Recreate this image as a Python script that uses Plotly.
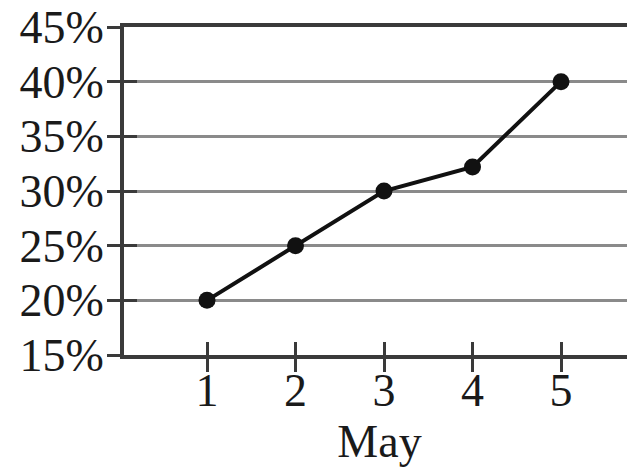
import plotly.graph_objects as go

days = [1, 2, 3, 4, 5]
percent = [20, 25, 30, 32.2, 40]
y_ticks = [15, 20, 25, 30, 35, 40, 45]
y_tick_labels = ["15%", "20%", "25%", "30%", "35%", "40%", "45%"]
x_ticks = [1, 2, 3, 4, 5]
x_tick_labels = ["1", "2", "3", "4", "5"]

FONT = dict(family="Liberation Serif, Times New Roman, serif", size=46, color="#1a1a1a")

fig = go.Figure()
fig.add_trace(go.Scatter(
    x=days, y=percent, mode="lines+markers",
    line=dict(color="#111", width=4),
    marker=dict(color="#111", size=17),
    showlegend=False, cliponaxis=False,
))
# helper trace to draw inner halves of tick marks
fig.add_trace(go.Scatter(
    x=days, y=percent, xaxis="x2", yaxis="y2", mode="lines",
    line=dict(width=0), opacity=0, showlegend=False, hoverinfo="skip",
))

axis_common = dict(showline=True, linecolor="#3a3a3a", linewidth=4,
                   tickcolor="#3a3a3a", tickwidth=3, zeroline=False, automargin=False)

fig.update_layout(
    width=627, height=460,
    margin=dict(l=116, r=0, t=19, b=113),
    paper_bgcolor="white", plot_bgcolor="white",
    font=FONT,
    xaxis=dict(range=[0.062, 5.836], tickvals=x_ticks, ticktext=x_tick_labels,
               ticks="outside", ticklen=13, ticklabelstandoff=-21, mirror=True,
               showgrid=False, title=dict(text="May", standoff=4, font=FONT),
               tickfont=FONT, ticklabeloverflow="allow", **axis_common),
    yaxis=dict(range=[15, 45], tickvals=y_ticks, ticktext=y_tick_labels,
               ticks="outside", ticklen=13, ticklabelstandoff=-6,
               showgrid=True, gridcolor="#8a8a8a", gridwidth=3,
               tickfont=FONT, ticklabeloverflow="allow", **axis_common),
    xaxis2=dict(overlaying="x", matches="x", anchor="y2", ticks="inside", ticklen=13,
                tickvals=x_ticks, showticklabels=False, showgrid=False, showline=False,
                tickcolor="#3a3a3a", tickwidth=3, zeroline=False, automargin=False),
    yaxis2=dict(overlaying="y", matches="y", anchor="x2", ticks="inside", ticklen=13,
                tickvals=y_ticks, showticklabels=False, showgrid=False, showline=False,
                tickcolor="#3a3a3a", tickwidth=3, zeroline=False, automargin=False),
)

fig.write_html("out.html")
